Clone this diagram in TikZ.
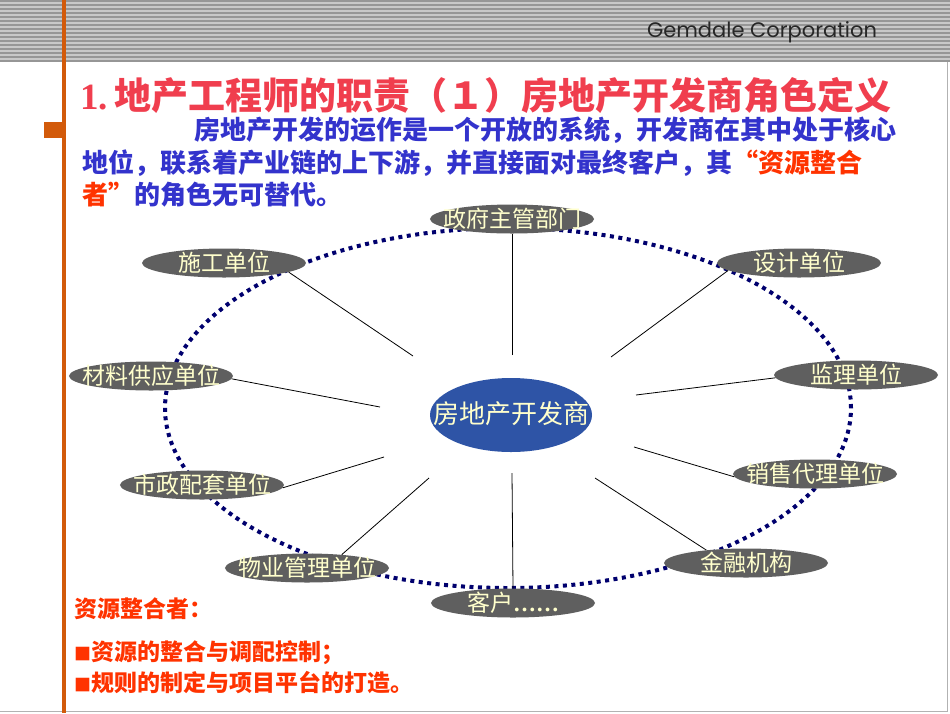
\documentclass[tikz,border=0pt]{standalone}
\usepackage{fontspec}
\newfontfamily\cjk{Noto Sans CJK SC}
\newfontfamily\serif{Liberation Serif}
\newfontfamily\logo{Poppins}
\usetikzlibrary{shapes.geometric}
\definecolor{titlered}{RGB}{240,62,78}
\definecolor{bodyblue}{RGB}{51,51,204}
\definecolor{accentred}{RGB}{255,51,0}
\definecolor{orangeline}{RGB}{210,90,10}
\definecolor{nodegray}{RGB}{95,95,95}
\definecolor{labelyellow}{RGB}{255,255,204}
\definecolor{centerblue}{RGB}{46,84,166}
\definecolor{dotnavy}{RGB}{0,0,110}
\definecolor{stripelight}{RGB}{200,200,200}
\definecolor{stripedark}{RGB}{150,150,150}
\begin{document}
\begin{tikzpicture}[x=1pt,y=-1pt,
  party/.style={ellipse, fill=nodegray, text=labelyellow,
    font=\cjk\fontsize{23}{23}\selectfont, minimum width=164pt, minimum height=29pt,
    inner xsep=-11pt, inner ysep=-1pt, text height=19pt, text depth=3pt},
  hub/.style={ellipse, fill=centerblue, text=labelyellow,
    font=\cjk\fontsize{26}{26}\selectfont, minimum width=162pt, minimum height=74pt,
    inner xsep=-21pt, inner ysep=0pt, text height=21pt, text depth=4pt},
  spoke/.style={black, line width=0.8pt},
  ring/.style={dotnavy, line width=4pt, dash pattern=on 4pt off 4.5pt},
  bodytext/.style={anchor=west, inner sep=0pt, text=bodyblue,
    font=\cjk\bfseries\fontsize{26}{26}\selectfont},
  notetext/.style={anchor=west, inner sep=0pt, text=accentred,
    font=\cjk\bfseries\fontsize{23}{23}\selectfont}]
\useasboundingbox (0,0) rectangle (950,713);
\fill[white] (0,0) rectangle (950,713);
% header band
\fill[stripelight] (0,0) rectangle (950,62);
\foreach \yy in {1,5,...,61} \draw[stripedark, line width=1.5pt] (0,\yy) -- (950,\yy);
\node[font=\logo\fontsize{21}{21}\selectfont, text=black!85] (logo) at (762,32) {Gemdale Corporation};
% frame lines
\draw[gray!60, line width=1pt] (947,62) -- (947,711) -- (0,711);
% orange rule and tab
\fill[orangeline] (62,0) rectangle (66,713);
\fill[orangeline] (44,122) rectangle (63,138);
% title
\node[anchor=west, inner sep=0pt, text=titlered, font=\cjk\bfseries\fontsize{37}{37}\selectfont] (title) at (80,95)
  {{\serif\bfseries 1.\,}地产工程师的职责（１）房地产开发商角色定义};
\node[bodytext] (p1) at (194,130) {房地产开发的运作是一个开放的系统，开发商在其中处于核心};
\node[bodytext] (p2) at (82,163) {地位，联系着产业链的上下游，并直接面对最终客户，其\textcolor{accentred}{“资源整合}};
\node[bodytext] (p3) at (82,195) {\textcolor{accentred}{者”}的角色无可替代。};
% ring
\draw[ring] (508,408) ellipse [x radius=343pt, y radius=180pt];
% nodes
\node[hub] (hub) at (511,415) {房地产开发商};
\node[party] (zf) at (512,219) {政府主管部门};
\node[party] (sg) at (224,263) {施工单位};
\node[party] (sj) at (799,263) {设计单位};
\node[party] (cl) at (151,376) {材料供应单位};
\node[party] (jl) at (856,375) {监理单位};
\node[party] (sz) at (202,485) {市政配套单位};
\node[party] (xs) at (815,474) {销售代理单位};
\node[party] (wy) at (307,568) {物业管理单位};
\node[party] (jr) at (746,563) {金融机构};
\node[party] (kh) at (513,603) {客户{\serif\bfseries ……}};
% spokes
\coordinate (izf) at (512,355);
\coordinate (isg) at (413,356);
\coordinate (isj) at (611,357);
\coordinate (ijl) at (636,395);
\coordinate (icl) at (380,407);
\coordinate (isz) at (384,457);
\coordinate (iwy) at (429,478);
\coordinate (ikh) at (512,473);
\coordinate (ijr) at (595,478);
\coordinate (ixs) at (634,447);
\draw[spoke] (izf) -- (zf.south);
\draw[spoke] (isg) -- (sg.-8);
\draw[spoke] (isj) -- (sj.186);
\draw[spoke] (ijl) -- (jl.182);
\draw[spoke] (icl) -- (cl.-2);
\draw[spoke] (isz) -- (sz.-2);
\draw[spoke] (iwy) -- (wy.21);
\draw[spoke] (ikh) -- (kh.north);
\draw[spoke] (ijr) -- (jr.162);
\draw[spoke] (ixs) -- (xs.182);
% notes
\node[notetext] (rz) at (74,609) {资源整合者：};
\node[notetext] (b1) at (74,653) {{\fontsize{17}{17}\selectfont ■}资源的整合与调配控制；};
\node[notetext] (b2) at (74,683) {{\fontsize{17}{17}\selectfont ■}规则的制定与项目平台的打造。};
\end{tikzpicture}
\end{document}
